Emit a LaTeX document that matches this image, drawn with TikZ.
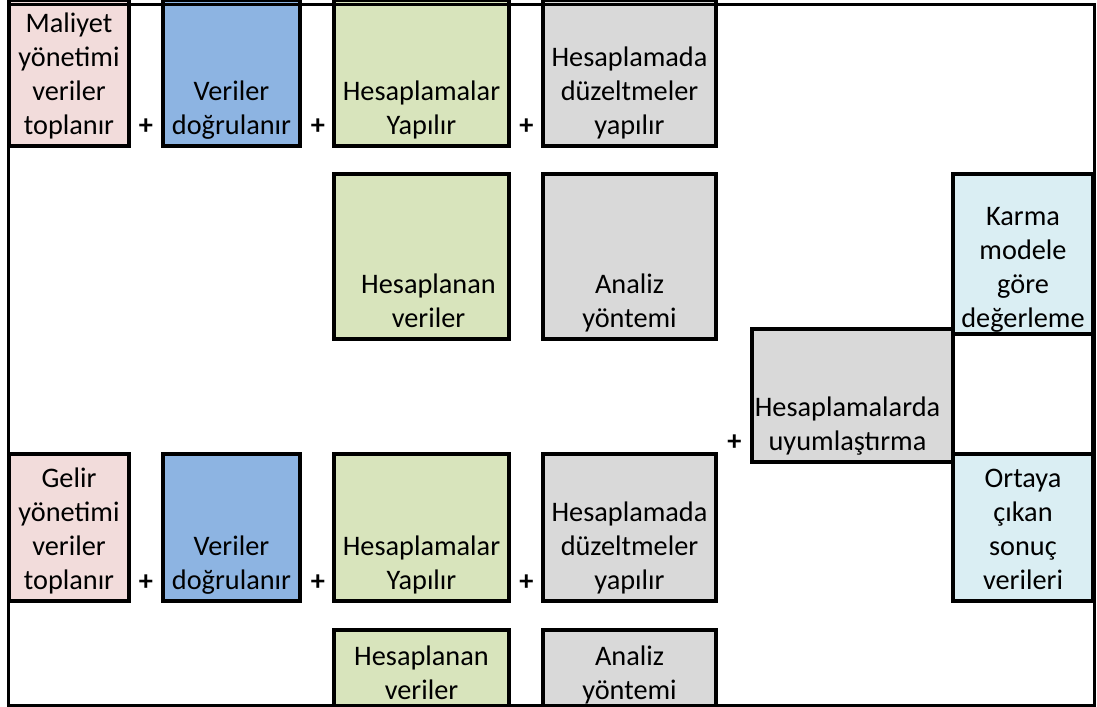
\documentclass[tikz,border=0pt]{standalone}
\usepackage{fontspec}
\setmainfont{Carlito}
\definecolor{cpink}{HTML}{F2DCDB}
\definecolor{cblue}{HTML}{8DB4E2}
\definecolor{cgreen}{HTML}{D8E4BC}
\definecolor{cgray}{HTML}{D9D9D9}
\definecolor{clblue}{HTML}{DAEEF3}
\newcommand{\ct}[3]{\parbox[c][#2bp][b]{#1bp}{\centering #3\rule[-11.5bp]{0pt}{11.5bp}}}
\tikzset{
  cell/.style={draw=black, line width=4bp, inner sep=0pt, outer sep=0pt,
    font=\fontsize{28.3bp}{34bp}\selectfont},
  plussign/.style={anchor=base, inner sep=0pt,
    font=\bfseries\fontsize{28.3bp}{34bp}\selectfont},
  frame/.style={draw=black, line width=3bp}
}
\begin{document}
\begin{tikzpicture}[x=1bp, y=-1bp]
\useasboundingbox (0,0) rectangle (1097,707);
% Row 1
\node[cell, fill=cpink, minimum width=120bp, minimum height=136bp] (a1) at (69,73)
  {\ct{118}{134}{Maliyet\\yönetimi\\veriler\\toplanır}};
\node[cell, fill=cblue, minimum width=137bp, minimum height=136bp] (b1) at (231.5,73)
  {\ct{135}{134}{Veriler\\doğrulanır}};
\node[cell, fill=cgreen, minimum width=175bp, minimum height=136bp] (c1) at (421.5,73)
  {\ct{173}{134}{Hesaplamalar\\Yapılır}};
\node[cell, fill=cgray, minimum width=173bp, minimum height=136bp] (d1) at (629.5,73)
  {\ct{171}{134}{Hesaplamada\\düzeltmeler\\yapılır}};
% Row 2
\node[cell, fill=cgreen, minimum width=175bp, minimum height=155bp] (c2) at (421.5,256.5)
  {\ct{173}{153}{\leftskip=14bp plus 1fil Hesaplanan\\veriler}};
\node[cell, fill=cgray, minimum width=173bp, minimum height=155bp] (d2) at (629.5,256.5)
  {\ct{171}{153}{Analiz\\yöntemi}};
\node[cell, fill=clblue, minimum width=140bp, minimum height=155bp] (g2) at (1023,256.5)
  {\ct{138}{153}{Karma\\modele\\göre\\değerleme}};
% Row 3
\node[cell, fill=cgray, minimum width=201bp, minimum height=123bp] (f3) at (852.5,395.5)
  {\ct{199}{121}{\rightskip=10bp plus 1fil Hesaplamalarda\\uyumlaştırma}};
\node[cell, fill=white, minimum width=140bp, minimum height=123bp] (g3) at (1023,395.5) {};
% Row 4
\node[cell, fill=cpink, minimum width=120bp, minimum height=137bp] (a4) at (69,527.5)
  {\ct{118}{135}{Gelir\\yönetimi\\veriler\\toplanır}};
\node[cell, fill=cblue, minimum width=137bp, minimum height=137bp] (b4) at (231.5,527.5)
  {\ct{135}{135}{Veriler\\doğrulanır}};
\node[cell, fill=cgreen, minimum width=175bp, minimum height=137bp] (c4) at (421.5,527.5)
  {\ct{173}{135}{Hesaplamalar\\Yapılır}};
\node[cell, fill=cgray, minimum width=173bp, minimum height=137bp] (d4) at (629.5,527.5)
  {\ct{171}{135}{Hesaplamada\\düzeltmeler\\yapılır}};
\node[cell, fill=clblue, minimum width=140bp, minimum height=137bp] (g4) at (1023,527.5)
  {\ct{138}{135}{Ortaya\\çıkan\\sonuç\\verileri}};
% Row 5
\node[cell, fill=cgreen, minimum width=175bp, minimum height=71bp] (c5) at (421.5,670.5)
  {\ct{173}{69}{Hesaplanan\\veriler}};
\node[cell, fill=cgray, minimum width=173bp, minimum height=71bp] (d5) at (629.5,670.5)
  {\ct{171}{69}{Analiz\\yöntemi}};
% plus signs
\node[plussign] (p1) at (146,135) {+};
\node[plussign] (p2) at (318,135) {+};
\node[plussign] (p3) at (526.5,135) {+};
\node[plussign] (p4) at (734.5,450) {+};
\node[plussign] (p5) at (146,590) {+};
\node[plussign] (p6) at (318,590) {+};
\node[plussign] (p7) at (526.5,590) {+};
% outer frame
\draw[frame] (8.7,5) rectangle (1094,705);
\end{tikzpicture}
\end{document}
